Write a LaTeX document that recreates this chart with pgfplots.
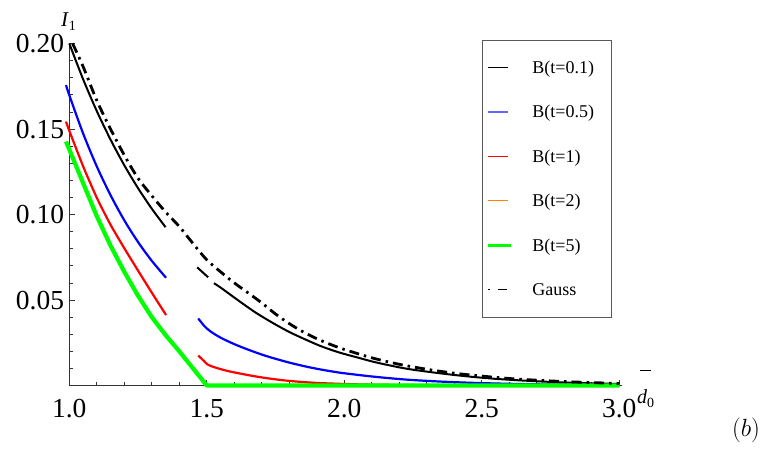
\documentclass[border=0pt]{standalone}
\usepackage{pgfplots}
\pgfplotsset{compat=1.18}
\usepackage{fontspec}
\setmainfont{Liberation Serif}
\definecolor{mgreen}{rgb}{0,1,0}
\definecolor{morange}{rgb}{1,0.5,0}
\pgfplotsset{
 legblack/.style={legend image code/.code={\path[draw=none,fill=none] (0pt,0pt)--(50pt,0pt); \draw[solid,sharp plot,black,line width=1pt] (6pt,0pt)--(26pt,0pt);}},
 legblue/.style={legend image code/.code={\path[draw=none,fill=none] (0pt,0pt)--(50pt,0pt); \draw[solid,blue!60,line width=1.3pt] (6pt,0pt)--(26pt,0pt);}},
 legred/.style={legend image code/.code={\path[draw=none,fill=none] (0pt,0pt)--(50pt,0pt); \draw[solid,red,line width=1pt] (6pt,0pt)--(26pt,0pt);}},
 legorange/.style={legend image code/.code={\path[draw=none,fill=none] (0pt,0pt)--(50pt,0pt); \draw[solid,morange,line width=1pt] (6pt,0pt)--(26pt,0pt);}},
 leggreen/.style={legend image code/.code={\path[draw=none,fill=none] (0pt,0pt)--(50pt,0pt); \draw[solid,mgreen,line width=3.5pt] (6pt,0pt)--(29pt,0pt);}},
 leggauss/.style={legend image code/.code={\path[draw=none,fill=none] (0pt,0pt)--(50pt,0pt); \draw[solid,black,line width=1pt] (6pt,0pt)--(8pt,0pt) (16pt,0pt)--(25pt,0pt);}},
}
\begin{document}
\begin{tikzpicture}
\path[use as bounding box] (0pt,0pt) rectangle (765pt,-453pt);
\begin{axis}[
  at={(69.3pt,-385.5pt)}, anchor=south west,
  scale only axis, width=552.7pt, height=342pt,
  xmin=1, xmax=3.01, ymin=0, ymax=0.2,
  axis lines=left,
  axis line style={-, black!80, line width=0.9pt},
  clip=false,
  unbounded coords=jump,
  xtick={1,1.5,2,2.5,3},
  ytick={0.05,0.1,0.15,0.2},
  minor xtick={1.1,1.2,1.3,1.4,1.6,1.7,1.8,1.9,2.1,2.2,2.3,2.4,2.6,2.7,2.8,2.9},
  minor ytick={0.01,0.02,0.03,0.04,0.06,0.07,0.08,0.09,0.11,0.12,0.13,0.14,0.16,0.17,0.18,0.19},
  tick align=inside,
  major tick length=6pt, minor tick length=3.5pt,
  every tick/.style={black!80, line width=0.8pt},
  /pgf/number format/assume math mode=true,
  ticklabel style={font=\fontsize{27.5}{27.5}\selectfont, inner sep=0pt},
  xticklabel style={anchor=north, yshift=-13.5pt, /pgf/number format/.cd, fixed, fixed zerofill, precision=1},
  yticklabel style={anchor=east, xshift=-5pt, text depth=0pt, /pgf/number format/.cd, fixed, fixed zerofill, precision=2},
  scaled y ticks=false,
  legend cell align=left,
  legend style={at={(0.7467,1.0102)}, anchor=north west, draw=black!65, line width=0.9pt,
    inner xsep=0pt, inner ysep=4.75pt, row sep=0pt, column sep=0pt,
    font=\fontsize{18}{18}\selectfont,
    nodes={inner sep=0pt, minimum height=44.5pt, text height=12pt, text depth=0pt, text width=79pt, align=left}},
]
% B(t=0.1)
\addplot[black, line width=2pt, smooth, tension=0.5, legblack] coordinates {
(1.000,0.2000) (1.050,0.1792) (1.100,0.1605) (1.150,0.1438) (1.200,0.1288)
(1.250,0.1154) (1.300,0.1034) (1.350,0.0926) (1.40,nan)
(1.465,0.0691) (1.505,0.0633) (1.515,nan)
(1.526,0.0598) (1.55,0.0573) (1.621,0.0490) (1.68,0.0424) (1.742,0.0364)
(1.80,0.0313) (1.863,0.0266) (1.92,0.0227) (1.984,0.0192) (2.05,0.0163)
(2.105,0.0139) (2.17,0.0116) (2.239,0.0095) (2.35,0.0071) (2.45,0.0053)
(2.55,0.0039) (2.65,0.0029) (2.75,0.0021) (2.85,0.0015) (3.00,0.0009)};
\addlegendentry{B(t=0.1)}
% B(t=0.5)
\addplot[blue, line width=2.2pt, smooth, tension=0.5, legblue] coordinates {
(0.988,0.1757) (1.000,0.1698) (1.050,0.1475) (1.100,0.1281) (1.150,0.1113)
(1.200,0.0966) (1.250,0.0839) (1.300,0.0729) (1.352,0.0630) (1.40,nan)
(1.469,0.0392) (1.49,0.0350) (1.512,0.0318) (1.55,0.0280) (1.60,0.0242)
(1.65,0.0210) (1.70,0.0181) (1.742,0.0160) (1.80,0.0134) (1.863,0.0110)
(1.92,0.0092) (1.984,0.0075) (2.05,0.0062) (2.105,0.0052) (2.17,0.0042)
(2.239,0.0033) (2.35,0.0023) (2.50,0.0014) (2.70,0.0007) (3.00,0.0003)};
\addlegendentry{B(t=0.5)}
% B(t=1)
\addplot[red, line width=2.2pt, smooth, tension=0.4, legred] coordinates {
(0.988,0.1543) (1.000,0.1490) (1.050,0.1283) (1.100,0.1098) (1.150,0.0940)
(1.200,0.0803) (1.250,0.0672) (1.300,0.0543) (1.352,0.0412) (1.40,nan)
(1.469,0.0175) (1.49,0.0143) (1.502,0.0124) (1.52,0.0111) (1.55,0.0096)
(1.584,0.0082) (1.65,0.0061) (1.705,0.0046) (1.77,0.0032) (1.827,0.0023)
(1.90,0.0015) (2.00,0.0009) (2.10,0.0005) (2.30,0.0002) (2.60,0.0001) (3.00,0.0000)};
\addlegendentry{B(t=1)}
% B(t=2)
\addplot[morange, line width=2.2pt, legorange] coordinates {
(0.988,0.1426) (1.000,0.1380) (1.050,0.1185) (1.100,0.0990) (1.150,0.0818)
(1.200,0.0665) (1.250,0.0525) (1.300,0.0400) (1.350,0.0295) (1.400,0.0200)
(1.450,0.0100) (1.500,0.0000) (3.000,0.0000)};
\addlegendentry{B(t=2)}
% B(t=5)
\addplot[mgreen, line width=4.2pt, line join=round, leggreen] coordinates {
(0.988,0.1426) (1.000,0.1380) (1.050,0.1185) (1.100,0.0990) (1.150,0.0818)
(1.200,0.0665) (1.250,0.0525) (1.300,0.0400) (1.350,0.0295) (1.400,0.0200)
(1.450,0.0100) (1.500,0.0000) (3.000,0.0000)};
\addlegendentry{B(t=5)}
% Gauss
\addplot[black, line width=2.8pt, smooth, tension=0.5, dash pattern=on 10pt off 5pt on 2.5pt off 5pt, leggauss] coordinates {
(1.012,0.2000) (1.05,0.1866) (1.10,0.1667) (1.15,0.1500) (1.20,0.1347)
(1.25,0.1212) (1.30,0.1110) (1.35,0.1015) (1.40,0.0930) (1.45,0.0830)
(1.50,0.0735) (1.55,0.0665) (1.60,0.0600) (1.65,0.0542) (1.70,0.0483)
(1.75,0.0418) (1.80,0.0362) (1.85,0.0314) (1.90,0.0274) (1.95,0.0240)
(2.00,0.0211) (2.10,0.0162) (2.20,0.0124) (2.30,0.0095) (2.40,0.0072)
(2.50,0.0055) (2.60,0.0041) (2.70,0.0031) (2.80,0.0023) (2.90,0.0017) (3.00,0.0012)};
\addlegendentry{Gauss}
\end{axis}
% axis labels
\node[anchor=base, inner sep=0pt] at (68.5pt,-26pt) {\fontsize{21}{21}\selectfont\itshape I\/\raisebox{-4pt}{\upshape\fontsize{14}{14}\selectfont 1}};
\node[anchor=base west, inner sep=0pt] at (637pt,-403pt) {\fontsize{20}{20}\selectfont\itshape d\raisebox{-4pt}{\upshape\fontsize{14}{14}\selectfont 0}};
\node[inner sep=0pt] at (645pt,-370pt) {\rule{11pt}{1pt}};
\node[inner sep=0pt] at (746pt,-430pt) {\fontsize{25}{25}\selectfont$(b)$};
\end{tikzpicture}
\end{document}
